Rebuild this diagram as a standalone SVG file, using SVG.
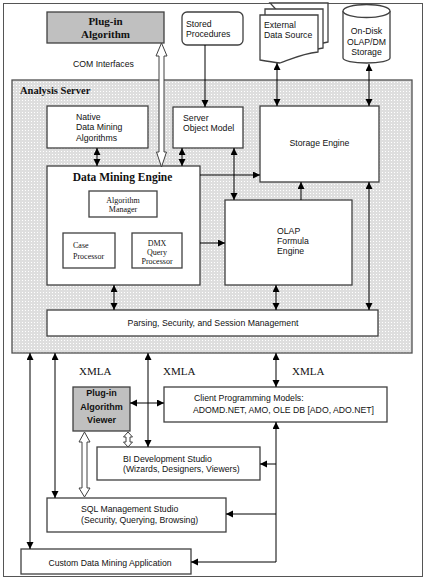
<svg xmlns="http://www.w3.org/2000/svg" width="427" height="582" viewBox="0 0 427 582">
<defs>
<pattern id="dots" width="3" height="3" patternUnits="userSpaceOnUse">
<rect width="3" height="3" fill="#dedede"/>
<rect x="1" y="1" width="1" height="1" fill="#ffffff"/>
</pattern>
<marker id="ah" markerUnits="userSpaceOnUse" markerWidth="8" markerHeight="8" refX="7" refY="3.5" orient="auto-start-reverse">
<path d="M0,0 L7,3.5 L0,7 z" fill="#000"/>
</marker>
<style>
.box{fill:#fff;stroke:#404040;stroke-width:1.3}
.gray{fill:#c0c0c0;stroke:#404040;stroke-width:1.3}
.s{font-family:"Liberation Sans",Arial,sans-serif;font-size:8.7px;fill:#111}
.sb{font-family:"Liberation Sans",Arial,sans-serif;font-size:9px;font-weight:bold;fill:#111}
.rb{font-family:"Liberation Serif","Times New Roman",serif;font-weight:bold;fill:#111}
.r{font-family:"Liberation Serif","Times New Roman",serif;fill:#111}
.c{fill:none;stroke:#000;stroke-width:1}
.hollow{fill:#fff;stroke:#404040;stroke-width:1}
</style>
</defs>
<rect x="3.5" y="3.5" width="419" height="573" fill="#fff" stroke="#555" stroke-width="1"/>

<g id="analysis-server">
<rect x="12" y="80" width="400" height="273" fill="url(#dots)" stroke="#505050" stroke-width="1.3"/>
<text class="rb" x="20" y="94" font-size="10.5">Analysis Server</text>
</g>

<g id="plugin-algorithm">
<rect class="gray" x="47" y="12" width="117" height="31"/>
<text class="rb" x="105.5" y="25" font-size="11" text-anchor="middle">Plug-in</text>
<text class="rb" x="105.5" y="38" font-size="11" text-anchor="middle">Algorithm</text>
</g>

<g id="stored-procedures">
<rect class="box" x="182" y="12" width="61" height="33" rx="5"/>
<text class="s" x="186" y="27">Stored</text>
<text class="s" x="186" y="37">Procedures</text>
</g>

<g id="external-data-source">
<path class="box" d="M270,3 H328 V42 Q318,44 310,46 Z" stroke-width="1"/>
<path class="box" d="M265,9 H323 V48 Q300,52 290,56 L265,52 Z" stroke-width="1"/>
<path class="box" d="M260,15 H318 V52 C300,54 290,60 280,63 C272,62 266,61 260,60 Z" stroke-width="1"/>
<text class="s" x="264" y="28">External</text>
<text class="s" x="264" y="38">Data Source</text>
</g>

<g id="olap-dm-storage">
<path class="box" d="M343,11 V58 A23.5,5 0 0 0 390,58 V11" stroke-width="1.2"/>
<ellipse class="box" cx="366.5" cy="11" rx="23.5" ry="6.5" stroke-width="1.2"/>
<text class="s" x="366.5" y="34" text-anchor="middle">On-Disk</text>
<text class="s" x="366.5" y="45" text-anchor="middle">OLAP/DM</text>
<text class="s" x="366.5" y="55" text-anchor="middle">Storage</text>
</g>

<g id="com-label">
<text class="s" x="73" y="67" font-size="9">COM Interfaces</text>
</g>

<g id="native-algorithms">
<rect class="box" x="47" y="106" width="101" height="42"/>
<text class="s" x="76" y="120">Native</text>
<text class="s" x="76" y="130">Data Mining</text>
<text class="s" x="76" y="141">Algorithms</text>
</g>

<g id="server-object-model">
<rect class="box" x="173" y="107" width="70" height="41"/>
<text class="s" x="183" y="121">Server</text>
<text class="s" x="183" y="131">Object Model</text>
</g>

<g id="storage-engine">
<rect class="box" x="260" y="106" width="119" height="76"/>
<text class="s" x="319.5" y="146" text-anchor="middle">Storage Engine</text>
</g>

<g id="data-mining-engine">
<rect class="box" x="47" y="166" width="153" height="119"/>
<text class="rb" x="122.5" y="181" font-size="11.5" text-anchor="middle">Data Mining Engine</text>
</g>

<g id="algorithm-manager">
<rect class="box" x="89" y="191" width="68" height="26"/>
<text class="r" x="123" y="203" font-size="8" text-anchor="middle">Algorithm</text>
<text class="r" x="123" y="212" font-size="8" text-anchor="middle">Manager</text>
</g>

<g id="case-processor">
<rect class="box" x="63" y="233" width="52" height="35"/>
<text class="r" x="73" y="248" font-size="8">Case</text>
<text class="r" x="73" y="259" font-size="8">Processor</text>
</g>

<g id="dmx-query-processor">
<rect class="box" x="132" y="233" width="50" height="35"/>
<text class="r" x="157" y="246" font-size="8" text-anchor="middle">DMX</text>
<text class="r" x="157" y="255" font-size="8" text-anchor="middle">Query</text>
<text class="r" x="157" y="264" font-size="8" text-anchor="middle">Processor</text>
</g>

<g id="olap-formula-engine">
<rect class="box" x="225" y="200" width="127" height="85"/>
<text class="s" x="277" y="234">OLAP</text>
<text class="s" x="277" y="244">Formula</text>
<text class="s" x="277" y="254">Engine</text>
</g>

<g id="parsing-security">
<rect class="box" x="47" y="310" width="331" height="26"/>
<text class="s" x="213" y="326" text-anchor="middle">Parsing, Security, and Session Management</text>
</g>

<g id="xmla-labels">
<text class="r" x="79" y="375" font-size="11">XMLA</text>
<text class="r" x="163" y="375" font-size="11">XMLA</text>
<text class="r" x="292" y="375" font-size="11">XMLA</text>
</g>

<g id="plugin-viewer">
<rect class="gray" x="73" y="387" width="57" height="44"/>
<text class="sb" x="101.5" y="396" text-anchor="middle">Plug-in</text>
<text class="sb" x="101.5" y="410" text-anchor="middle">Algorithm</text>
<text class="sb" x="101.5" y="423" text-anchor="middle">Viewer</text>
</g>

<g id="client-programming">
<rect class="box" x="164" y="387" width="223" height="35"/>
<text class="s" x="194" y="401">Client Programming Models:</text>
<text class="s" x="193" y="413">ADOMD.NET, AMO, OLE DB [ADO, ADO.NET]</text>
</g>

<g id="bi-dev-studio">
<rect class="box" x="97" y="447" width="163" height="33"/>
<text class="s" x="123" y="462">BI Development Studio</text>
<text class="s" x="123" y="472">(Wizards, Designers, Viewers)</text>
</g>

<g id="sql-mgmt-studio">
<rect class="box" x="47" y="498" width="179" height="34"/>
<text class="s" x="81" y="512">SQL Management Studio</text>
<text class="s" x="81" y="523">(Security, Querying, Browsing)</text>
</g>

<g id="custom-app">
<rect class="box" x="21" y="549" width="170" height="25"/>
<text class="s" x="110" y="566" text-anchor="middle">Custom Data Mining Application</text>
</g>

<g id="connectors">
<polygon class="hollow" points="161.5,43 167,56 164,56 164,152 166.5,152 161.5,167 156.5,152 159,152 159,56 156,56"/>
<polygon class="hollow" points="84.5,432 90,442 87,442 87,488 90,488 84.5,497 79,488 82,488 82,442 79,442"/>
<polygon class="hollow" points="128,432 132.5,437 130,437 130,442 132.5,442 128,447 123.5,442 126,442 126,437 123.5,437"/>
<path class="c" d="M205,45 V107" marker-end="url(#ah)"/>
<path class="c" d="M277,63 V106" marker-start="url(#ah)" marker-end="url(#ah)"/>
<path class="c" d="M369,64 V106" marker-start="url(#ah)" marker-end="url(#ah)"/>
<path class="c" d="M97,148 V166" marker-start="url(#ah)" marker-end="url(#ah)"/>
<path class="c" d="M182,148 V166" marker-start="url(#ah)" marker-end="url(#ah)"/>
<path class="c" d="M234,148 V200" marker-start="url(#ah)" marker-end="url(#ah)"/>
<path class="c" d="M200,175 H260" marker-end="url(#ah)"/>
<path class="c" d="M200,243 H225" marker-end="url(#ah)"/>
<path class="c" d="M301,200 V182" marker-end="url(#ah)"/>
<path class="c" d="M369,182 V310" marker-start="url(#ah)" marker-end="url(#ah)"/>
<path class="c" d="M114,285 V310" marker-start="url(#ah)" marker-end="url(#ah)"/>
<path class="c" d="M276,285 V310" marker-start="url(#ah)" marker-end="url(#ah)"/>
<path class="c" d="M30,353 V549" marker-start="url(#ah)" marker-end="url(#ah)"/>
<path class="c" d="M55,353 V498" marker-start="url(#ah)" marker-end="url(#ah)"/>
<path class="c" d="M148,353 V447" marker-start="url(#ah)" marker-end="url(#ah)"/>
<path class="c" d="M276,353 V387" marker-start="url(#ah)" marker-end="url(#ah)"/>
<path class="c" d="M130,403 H164" marker-start="url(#ah)" marker-end="url(#ah)"/>
<path class="c" d="M191,562 H276 V422" marker-start="url(#ah)" marker-end="url(#ah)"/>
<path class="c" d="M276,464 H260" marker-end="url(#ah)"/>
<path class="c" d="M276,514 H226" marker-end="url(#ah)"/>
</g>
</svg>
